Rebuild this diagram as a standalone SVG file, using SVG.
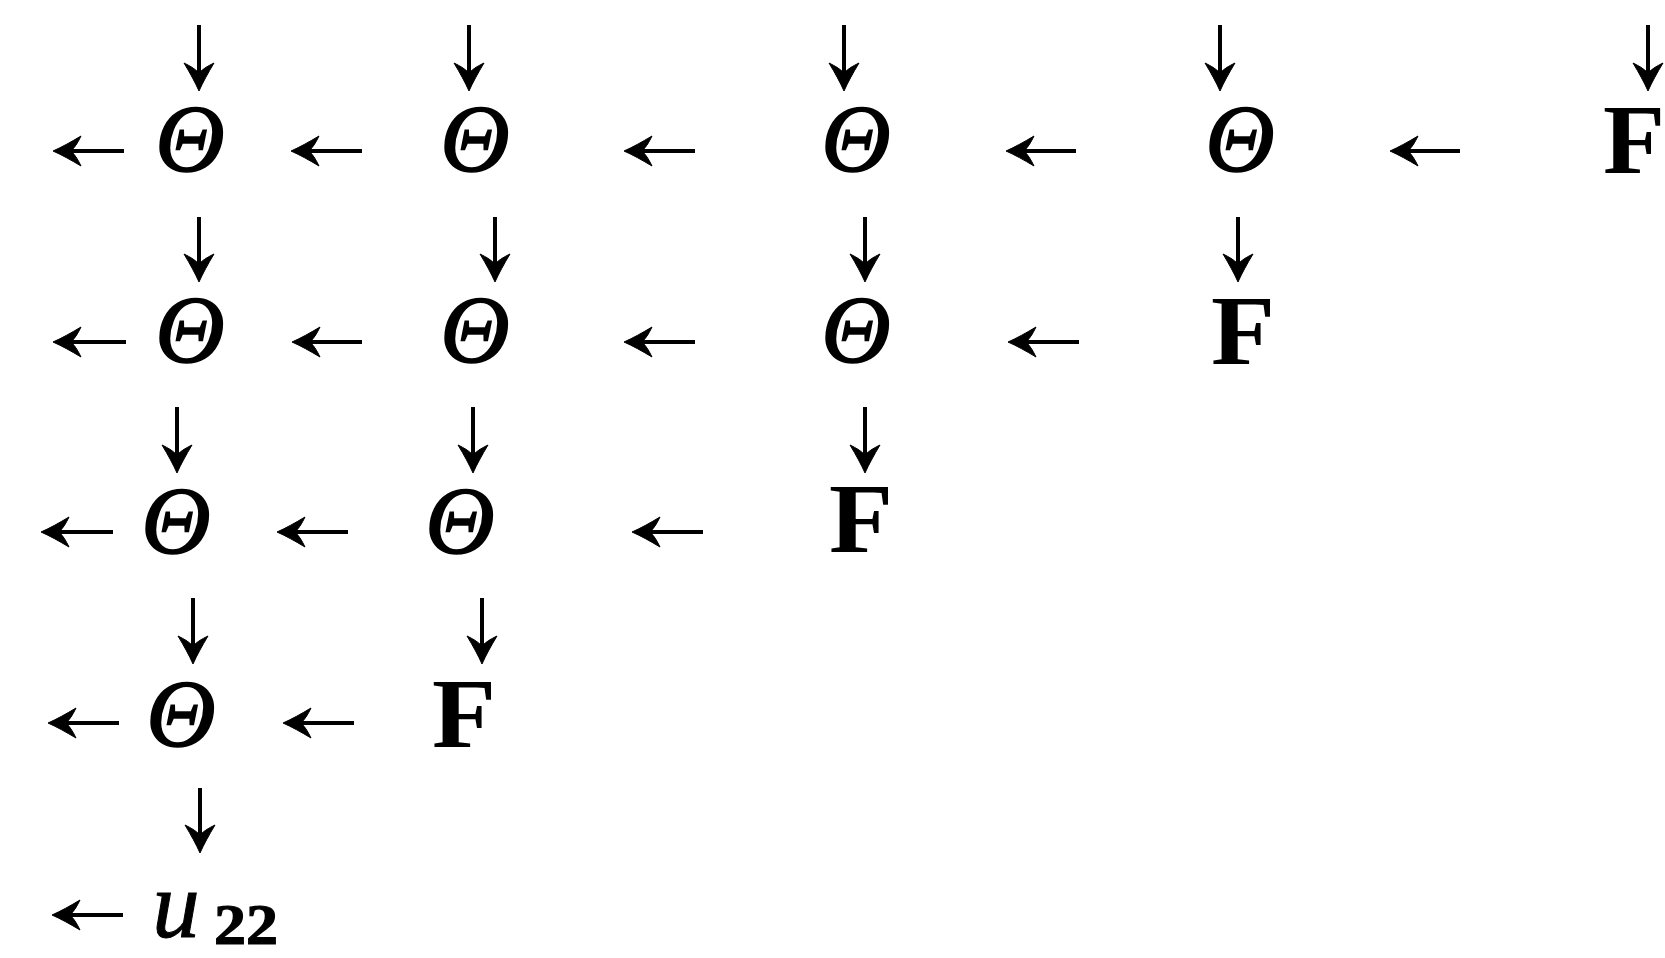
<svg xmlns="http://www.w3.org/2000/svg" width="1665" height="958" viewBox="0 0 1665 958">
<style>
.th{font-family:"Liberation Serif","Times New Roman",serif;font-style:italic;font-size:96px;fill:#000;stroke:#000;stroke-width:1.6;text-anchor:middle}
.f{font-family:"Liberation Serif","Times New Roman",serif;font-weight:bold;font-size:100px;fill:#000;text-anchor:middle}
.u{font-family:"Liberation Serif","Times New Roman",serif;font-style:italic;font-size:95px;fill:#000;stroke:#000;stroke-width:1;text-anchor:middle}
.sub{font-family:"Liberation Serif","Times New Roman",serif;font-weight:bold;font-size:58px;fill:#000;stroke:#000;stroke-width:1.2}
.ar{stroke:#000;stroke-width:4;fill:none;marker-end:url(#ah)}
</style>
<defs>
<marker id="ah" markerUnits="userSpaceOnUse" viewBox="-30 -16 32 32" refX="-10" refY="0" markerWidth="32" markerHeight="32" orient="auto">
<path d="M1,0 C-8,-4 -17,-9 -27,-15 C-24,-9 -22,-5 -17,0 C-22,5 -24,9 -27,15 C-17,9 -8,4 1,0 Z" fill="#000" stroke="#000" stroke-width="1"/>
</marker>
</defs>
<rect width="1665" height="958" fill="#fff"/>
<g id="connectors">
<path class="ar" d="M199,25 V80"/>
<path class="ar" d="M469,25 V80"/>
<path class="ar" d="M844,25 V80"/>
<path class="ar" d="M1220,25 V80"/>
<path class="ar" d="M1648,25 V80"/>
<path class="ar" d="M124,151 H64"/>
<path class="ar" d="M362,151 H302"/>
<path class="ar" d="M695,151 H635"/>
<path class="ar" d="M1076,151 H1017"/>
<path class="ar" d="M1460,151 H1401"/>
<path class="ar" d="M199,217 V271"/>
<path class="ar" d="M495,217 V271"/>
<path class="ar" d="M865,217 V271"/>
<path class="ar" d="M1238,217 V271"/>
<path class="ar" d="M126,342 H64"/>
<path class="ar" d="M362,342 H303"/>
<path class="ar" d="M695,342 H635"/>
<path class="ar" d="M1079,342 H1019"/>
<path class="ar" d="M177,407 V462"/>
<path class="ar" d="M473,407 V462"/>
<path class="ar" d="M865,407 V462"/>
<path class="ar" d="M113,532 H52"/>
<path class="ar" d="M348,532 H288"/>
<path class="ar" d="M703,532 H643"/>
<path class="ar" d="M193,598 V653"/>
<path class="ar" d="M482,598 V653"/>
<path class="ar" d="M119,723 H59"/>
<path class="ar" d="M354,723 H294"/>
<path class="ar" d="M200,788 V842"/>
<path class="ar" d="M123,915 H63"/>
</g>
<g id="r1c1"><text class="th" x="190" y="171">Θ</text></g>
<g id="r1c2"><text class="th" x="475" y="171">Θ</text></g>
<g id="r1c3"><text class="th" x="856" y="171">Θ</text></g>
<g id="r1c4"><text class="th" x="1240" y="171">Θ</text></g>
<g id="r1c5"><text class="f" x="1634" y="173" textLength="62" lengthAdjust="spacingAndGlyphs">F</text></g>
<g id="r2c1"><text class="th" x="190" y="362">Θ</text></g>
<g id="r2c2"><text class="th" x="475" y="362">Θ</text></g>
<g id="r2c3"><text class="th" x="856" y="362">Θ</text></g>
<g id="r2c4"><text class="f" x="1243" y="364" textLength="64" lengthAdjust="spacingAndGlyphs">F</text></g>
<g id="r3c1"><text class="th" x="176" y="553">Θ</text></g>
<g id="r3c2"><text class="th" x="460" y="553">Θ</text></g>
<g id="r3c3"><text class="f" x="861" y="552" textLength="64" lengthAdjust="spacingAndGlyphs">F</text></g>
<g id="r4c1"><text class="th" x="181" y="746">Θ</text></g>
<g id="r4c2"><text class="f" x="464" y="747" textLength="64" lengthAdjust="spacingAndGlyphs">F</text></g>
<g id="r5c1"><text class="u" x="176" y="937">u</text><text class="sub" x="214" y="944" textLength="64" lengthAdjust="spacingAndGlyphs">22</text></g>
</svg>
